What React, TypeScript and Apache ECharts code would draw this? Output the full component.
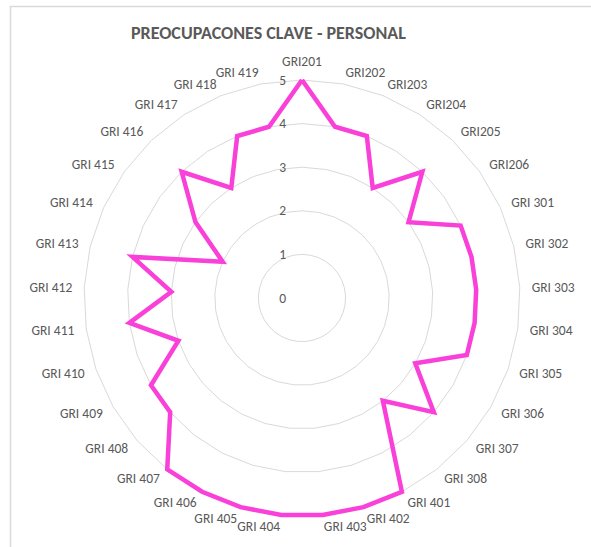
import React, { useEffect, useRef } from "react";
import * as echarts from "echarts";

const title = "PREOCUPACONES CLAVE - PERSONAL";
const categories = [
  "GRI201", "GRI202", "GRI203", "GRI204", "GRI205", "GRI206",
  "GRI 301", "GRI 302", "GRI 303", "GRI 304", "GRI 305", "GRI 306", "GRI 307", "GRI 308",
  "GRI 401", "GRI 402", "GRI 403", "GRI 404", "GRI 405", "GRI 406", "GRI 407", "GRI 408",
  "GRI 409", "GRI 410", "GRI 411", "GRI 412", "GRI 413", "GRI 414", "GRI 415", "GRI 416",
  "GRI 417", "GRI 418", "GRI 419",
];
const values = [
  5, 4, 4, 3, 4, 3,
  4, 4, 4, 4, 4, 3, 4, 3,
  5, 5, 5, 5, 5, 5, 5, 4,
  4, 3, 4, 3, 4, 2, 3, 4,
  3, 4, 4,
];
const axisMin = 0;
const axisMax = 5;

const FONT = "Carlito, Lato, 'Liberation Sans', sans-serif";

// ECharts lays radar indicators out counter-clockwise; reorder so the
// categories run clockwise from the top, as in the reference.
const order = [0, ...categories.map((_, i) => categories.length - 1 - i).slice(0, categories.length - 1)];

export default function App() {
  const ref = useRef<HTMLDivElement>(null);
  useEffect(() => {
    if (!ref.current) return;
    const chart = echarts.init(ref.current, null, { renderer: "svg" });
    chart.setOption({
      animation: false,
      backgroundColor: "#ffffff",
      title: {
        text: title,
        left: 126,
        top: 19,
        textStyle: { color: "#595959", fontSize: 18, fontWeight: "bold", fontFamily: FONT },
      },
      graphic: [
        {
          type: "rect",
          shape: { x: 10.5, y: 6.5, width: 700, height: 700 },
          style: { fill: "none", stroke: "#d9d9d9", lineWidth: 1.5 },
          silent: true,
        },
      ],
      radar: {
        center: [302, 298],
        radius: 218,
        startAngle: 90,
        shape: "polygon",
        splitNumber: 5,
        indicator: order.map((idx, k) => ({
          name: categories[idx],
          min: axisMin,
          max: axisMax,
          ...(k === 0 ? { axisLabel: { show: true } } : {}),
        })),
        axisName: { color: "#595959", fontSize: 13.5, fontFamily: FONT },
        nameGap: 12,
        axisLine: { show: false },
        axisTick: { show: false },
        axisLabel: {
          show: false,
          color: "#595959",
          fontSize: 13.5,
          fontFamily: FONT,
          margin: 16,
        },
        splitLine: { lineStyle: { color: "#d9d9d9", width: 1 } },
        splitArea: { show: false },
      },
      series: [
        {
          type: "radar",
          symbol: "none",
          lineStyle: { color: "#F940D8", width: 4.5, join: "miter" },
          data: [{ value: order.map((idx) => values[idx]), name: "Personal" }],
        },
      ],
    });
    return () => chart.dispose();
  }, []);
  return (
    <div
      ref={ref}
      style={{ position: "fixed", left: 0, top: 0, width: 591, height: 547 }}
    />
  );
}
